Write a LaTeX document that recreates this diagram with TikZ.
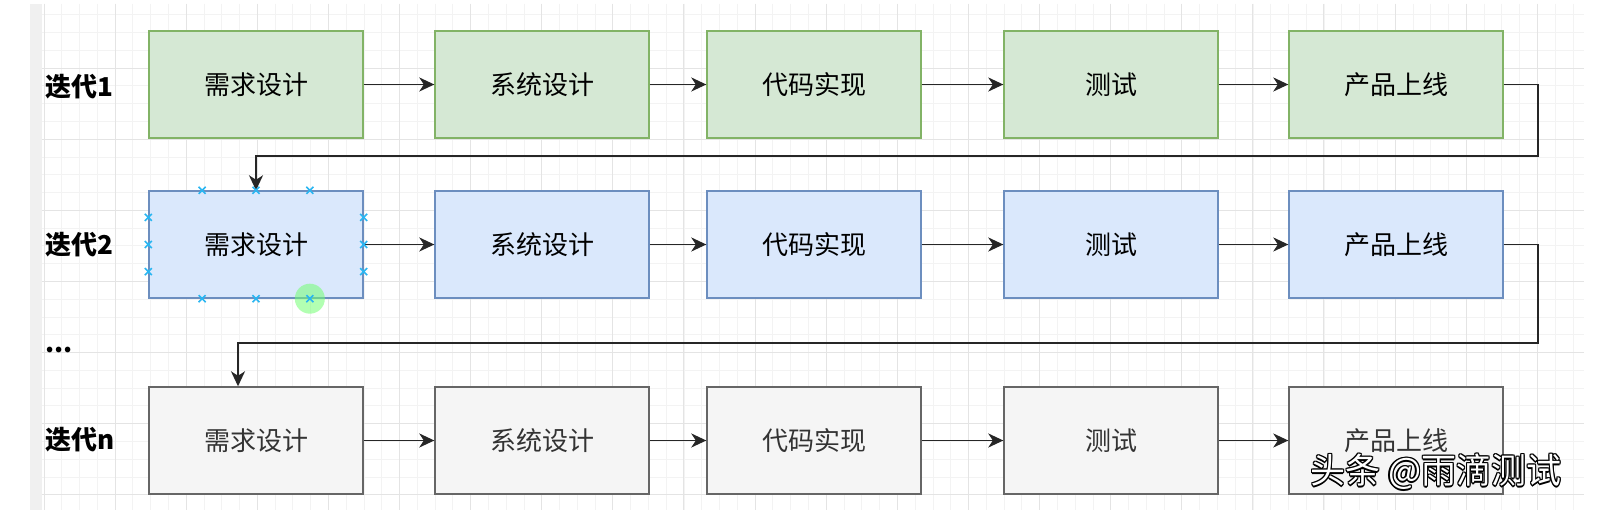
\documentclass[tikz,border=0pt]{standalone}
\usepackage{xcolor}
\usepackage{fontspec}
\setmainfont{Noto Sans CJK SC}
\usepackage{tikz}
\usetikzlibrary{positioning, calc, arrows.meta}

\definecolor{greenfill}{HTML}{D5E8D4}
\definecolor{greenline}{HTML}{82B366}
\definecolor{bluefill}{HTML}{DAE8FC}
\definecolor{blueline}{HTML}{6C8EBF}
\definecolor{grayfill}{HTML}{F5F5F5}
\definecolor{grayline}{HTML}{666666}
\definecolor{graytext}{HTML}{333333}
\definecolor{gridminor}{HTML}{F3F3F3}
\definecolor{gridmajor}{HTML}{E4E4E4}
\definecolor{handle}{HTML}{29B6F2}

% white letters with a dark rim
\newcommand{\ringtext}[1]{%
	\rlap{\kern-1.4pt\textcolor{black}{#1}}%
	\rlap{\kern1.4pt\textcolor{black}{#1}}%
	\rlap{\raisebox{1.4pt}{\textcolor{black}{#1}}}%
	\rlap{\raisebox{-1.4pt}{\textcolor{black}{#1}}}%
	\rlap{\kern-1pt\raisebox{1pt}{\textcolor{black}{#1}}}%
	\rlap{\kern1pt\raisebox{-1pt}{\textcolor{black}{#1}}}%
	\rlap{\kern1pt\raisebox{1pt}{\textcolor{black}{#1}}}%
	\rlap{\kern-1pt\raisebox{-1pt}{\textcolor{black}{#1}}}%
	\textcolor{white}{#1}}

\tikzset{
	box/.style={rectangle, minimum width=214pt, minimum height=107pt, inner sep=0pt, line width=1.4pt, font=\fontsize{26}{26}\selectfont},
	greenbox/.style={box, fill=greenfill, draw=greenline},
	bluebox/.style={box, fill=bluefill, draw=blueline},
	graybox/.style={box, fill=grayfill, draw=grayline, text=graytext},
	flow/.style={draw=black!85, line width=1.8pt, -{Stealth[length=15pt, width=14pt, inset=4.5pt]}},
	iterlabel/.style={anchor=west, inner sep=0pt, font=\bfseries\fontsize{26}{26}\selectfont},
	handlemark/.style={draw=handle, line width=1.6pt},
}

\begin{document}
\begin{tikzpicture}[x=1pt, y=-1pt]
				\useasboundingbox (0,0) rectangle (1601,510);
				\fill[white] (0,0) rectangle (1601,510);
				\fill[black!6] (30,4) rectangle (42,510);
				
				% grid
				\foreach \i in {0,...,86}
					\draw[gridminor, line width=1pt] (44+\i*17.78,4) -- (44+\i*17.78,510);
				\foreach \j in {1,...,28}
					\draw[gridminor, line width=1pt] (42,-3+\j*17.78) -- (1584,-3+\j*17.78);
				\foreach \i in {0,...,21}
					\draw[gridmajor, line width=1pt] (44+\i*71.11,4) -- (44+\i*71.11,510);
				\foreach \j in {1,...,7}
					\draw[gridmajor, line width=1pt] (42,-3+\j*71.11) -- (1584,-3+\j*71.11);
				
				% iteration 1
				\node [greenbox] (a1) at (256,84.5) {需求设计};
				\node [greenbox] (a2) at (542,84.5) {系统设计};
				\node [greenbox] (a3) at (814,84.5) {代码实现};
				\node [greenbox] (a4) at (1111,84.5) {测试};
				\node [greenbox] (a5) at (1396,84.5) {产品上线};
				
				% iteration 2
				\node [bluebox] (b1) at (256,244.5) {需求设计};
				\node [bluebox] (b2) at (542,244.5) {系统设计};
				\node [bluebox] (b3) at (814,244.5) {代码实现};
				\node [bluebox] (b4) at (1111,244.5) {测试};
				\node [bluebox] (b5) at (1396,244.5) {产品上线};
				
				% iteration n
				\node [graybox] (c1) at (256,440.5) {需求设计};
				\node [graybox] (c2) at (542,440.5) {系统设计};
				\node [graybox] (c3) at (814,440.5) {代码实现};
				\node [graybox] (c4) at (1111,440.5) {测试};
				\node [graybox] (c5) at (1396,440.5) {产品上线};
				
				\node [iterlabel] (lab1) at (45,87) {迭代1};
				\node [iterlabel] (lab2) at (45,245) {迭代2};
				\node [iterlabel] (labdots) at (45,350) {...};
				\node [iterlabel] (labn) at (45,440) {迭代n};
				
				\draw [flow] (a1) -- (a2);
				\draw [flow] (a2) -- (a3);
				\draw [flow] (a3) -- (a4);
				\draw [flow] (a4) -- (a5);
				\draw [flow] (b1) -- (b2);
				\draw [flow] (b2) -- (b3);
				\draw [flow] (b3) -- (b4);
				\draw [flow] (b4) -- (b5);
				\draw [flow] (c1) -- (c2);
				\draw [flow] (c2) -- (c3);
				\draw [flow] (c3) -- (c4);
				\draw [flow] (c4) -- (c5);
				
				\coordinate (turn1) at (1538,155.7);
				\draw [flow] (a5.east) -| (turn1) -- (turn1 -| b1.north) -- (b1.north);
				\coordinate (turn2) at (1538,343);
				\coordinate (drop2) at (238,343);
				\draw [flow] (b5.east) -| (turn2) -- (drop2) -- (drop2 |- c1.north);
				
				% selection handles
				\fill [green!55!white, opacity=0.55] ($(b1.south west)!0.75!(b1.south east)$) circle (15);
				\foreach \f in {0.25,0.5,0.75} {
					\draw [handlemark] ($(b1.north west)!\f!(b1.north east)$) ++(-3.5,-3.5) -- ++(7,7) ++(-7,0) -- ++(7,-7);
					\draw [handlemark] ($(b1.south west)!\f!(b1.south east)$) ++(-3.5,-3.5) -- ++(7,7) ++(-7,0) -- ++(7,-7);
					\draw [handlemark] ($(b1.north west)!\f!(b1.south west)$) ++(-3.5,-3.5) -- ++(7,7) ++(-7,0) -- ++(7,-7);
					\draw [handlemark] ($(b1.north east)!\f!(b1.south east)$) ++(-3.5,-3.5) -- ++(7,7) ++(-7,0) -- ++(7,-7);
				}
				
				\node [inner sep=0pt, font=\fontsize{35}{35}\selectfont] (mark) at (1436,472) {\ringtext{头条 @雨滴测试}};
\end{tikzpicture}
\end{document}
